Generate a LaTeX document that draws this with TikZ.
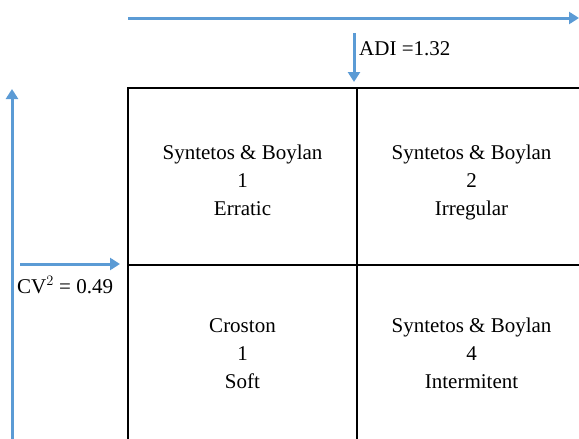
\documentclass[tikz,border=0pt]{standalone}
\usepackage{fontspec}
\setmainfont{Liberation Serif}
\usetikzlibrary{positioning,arrows.meta}
\definecolor{axisblue}{RGB}{91,155,213}
\newcommand{\topgap}{\rule{0pt}{28.5pt}}
\newcommand{\botgap}{\rule[-6pt]{0pt}{6pt}}

\begin{document}
\begin{tikzpicture}[x=1pt, y=-1pt, node distance=0pt,
  cell/.style={draw, line width=1.5pt, rectangle, outer sep=0pt, minimum width=229pt, minimum height=177pt, text centered, align=center, font=\fontsize{21}{28}\selectfont},
  axis/.style={draw=axisblue, line width=3pt, -{Triangle[length=10pt, width=12pt]}},
  lbl/.style={inner sep=0pt, font=\fontsize{21}{26}\selectfont}]

  \useasboundingbox (0,0) rectangle (579,439);
  \clip (0,0) rectangle (579,439);

  % Cells
  \node (erratic) [cell, anchor=north west] at (128,88) {\topgap Syntetos \& Boylan\\1\\Erratic\botgap};
  \node (irregular) [cell, right=of erratic] {\topgap Syntetos \& Boylan\\2\\Irregular\botgap};
  \node (soft) [cell, below=of erratic] {Croston\\1\\Soft};
  \node (intermit) [cell, right=of soft] {Syntetos \& Boylan\\4\\Intermitent};

  % Axes
  \coordinate (adiend) at (579,18);
  \coordinate (cvend) at (12,89);
  \draw[axis] (erratic.north west |- adiend) -- (adiend);
  \draw[axis] (cvend |- 0,439) -- (cvend);

  % Thresholds
  \coordinate (adistart) at (354,33);
  \coordinate (cvstart) at (20,264);
  \draw[axis] (adistart) -- (354,82);
  \draw[axis] (cvstart) -- (120,264);
  \node (adi) [lbl, anchor=base west] at (359,55) {ADI =1.32};
  \node (cv) [lbl, anchor=base west] at (17,293) {CV$^2$ = 0.49};

\end{tikzpicture}
\end{document}
